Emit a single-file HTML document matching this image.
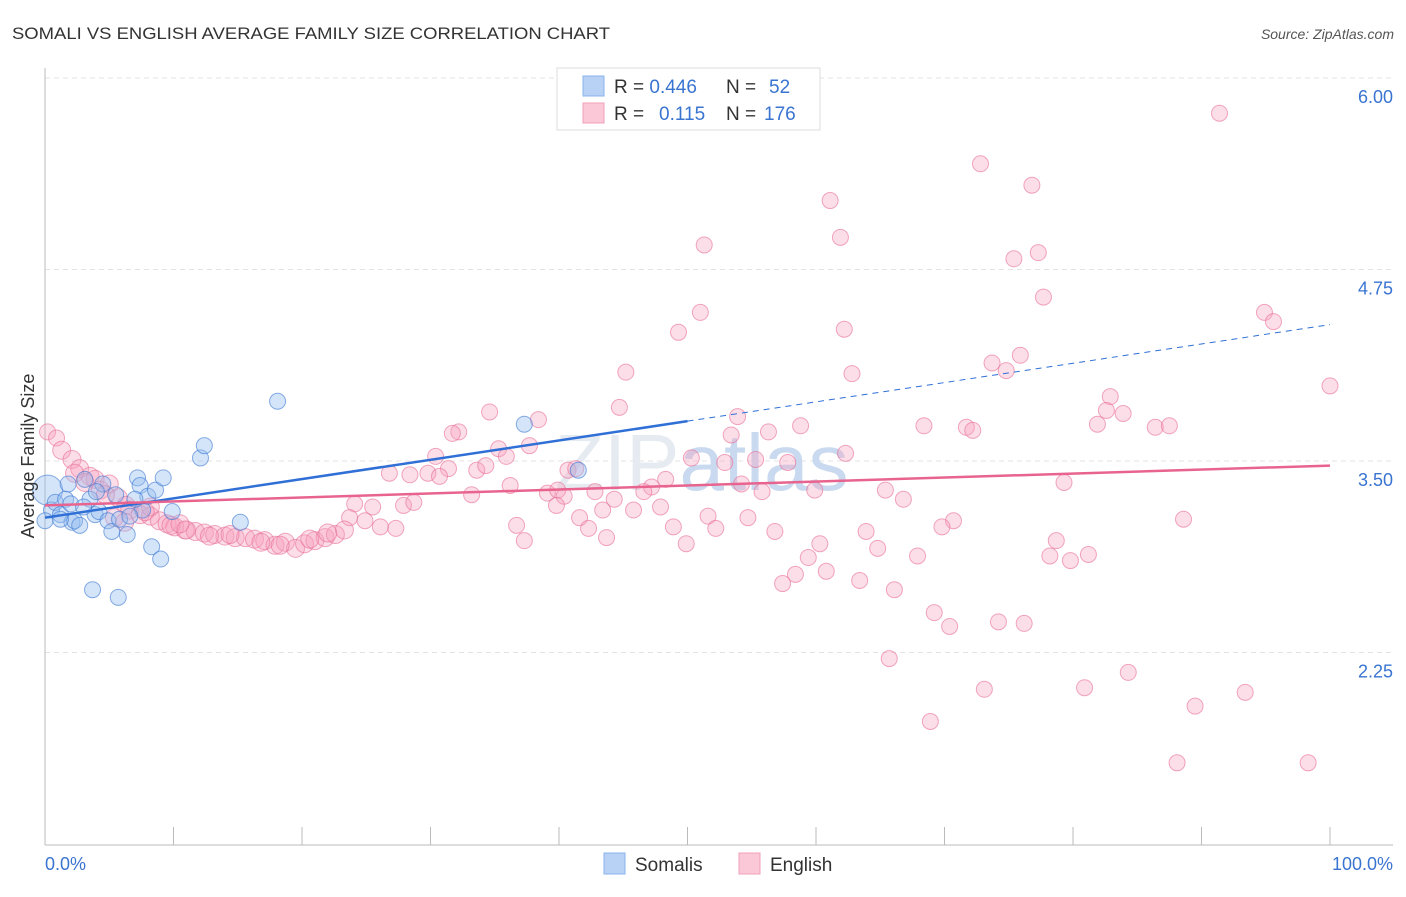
<!DOCTYPE html>
<html><head><meta charset="utf-8"><style>
body{margin:0;background:#fff;font-family:"Liberation Sans",sans-serif;}
svg text{font-family:"Liberation Sans",sans-serif;}
</style></head><body>
<svg id="chart" width="1406" height="892" xmlns="http://www.w3.org/2000/svg">
<text x="12" y="39" font-size="17" fill="#333" textLength="598" lengthAdjust="spacingAndGlyphs">SOMALI VS ENGLISH AVERAGE FAMILY SIZE CORRELATION CHART</text>
<text x="1394" y="39" font-size="14" fill="#555" font-style="italic" text-anchor="end">Source: ZipAtlas.com</text>
<g id="grid"></g>
<text x="555" y="490" font-size="80" fill="#e6ebf2" font-family="Liberation Serif">ZIP<tspan fill="#c9d9ef" font-family="Liberation Sans">atlas</tspan></text>
<g id="pts"></g>
<g id="lines"></g>
<text transform="translate(34,456) rotate(-90)" font-size="18" fill="#333" text-anchor="middle">Average Family Size</text>
<text x="45" y="870" font-size="18" fill="#3a74d1">0.0%</text>
<text x="1393" y="870" font-size="18" fill="#3a74d1" text-anchor="end">100.0%</text>
<g>
<rect x="557" y="68" width="263" height="62" fill="#fff" stroke="#ddd"/>
<rect x="583" y="76" width="21" height="20" fill="#b8d2f5" stroke="#8ab3ec"/>
<rect x="583" y="103" width="21" height="20" fill="#fac8d7" stroke="#f0a0b8"/>
<text x="614" y="93" font-size="19" fill="#333">R = <tspan fill="#3a74d1">0.446</tspan><tspan x="726">N = </tspan><tspan x="769" fill="#3a74d1">52</tspan></text>
<text x="614" y="120" font-size="19" fill="#333">R = <tspan x="659" fill="#3a74d1">0.115</tspan><tspan x="726">N = </tspan><tspan x="764" fill="#3a74d1">176</tspan></text>
</g>
<g>
<rect x="604" y="853" width="21" height="21" fill="#b8d2f5" stroke="#8ab3ec"/>
<text x="635" y="871" font-size="19" fill="#333">Somalis</text>
<rect x="739" y="853" width="21" height="21" fill="#fac8d7" stroke="#f0a0b8"/>
<text x="770" y="871" font-size="19" fill="#333">English</text>
</g>
</svg>
<script>
const yTicks=[6.00,4.75,3.50,2.25];
const xTicks=[0,10,20,30,40,50,60,70,80,90,100];
const somX=[0.2,0.5,0.8,1.2,1.6,1.8,2.1,2.3,2.7,3.1,3.5,3.9,4.2,4.5,4.9,5.2,5.5,5.8,6.4,7.2,7.4,7.6,8.0,8.3,8.6,9.0,9.2,9.9,12.1,12.4,15.2,18.1,3.7,5.7,37.3,41.5,1.2,0.0,2.0,6.6,3.0,4.0,7.0];
const somY=[3.31,3.18,3.23,3.15,3.25,3.35,3.10,3.11,3.08,3.38,3.25,3.15,3.17,3.35,3.11,3.04,3.28,3.12,3.02,3.39,3.34,3.18,3.27,2.94,3.31,2.86,3.39,3.17,3.52,3.60,3.10,3.89,2.66,2.61,3.74,3.44,3.12,3.11,3.22,3.14,3.20,3.30,3.25];
const engX=[91.4,72.8,76.8,61.1,61.9,51.3,75.4,77.3,77.7,51.0,49.3,62.2,94.9,95.6,73.7,75.9,74.8,62.8,45.2,100,82.9,82.6,83.9,81.9,86.4,87.5,71.7,72.2,68.4,53.9,44.7,53.4,56.3,58.8,34.6,38.4,32.2,31.7,35.3,37.7,30.4,35.9,50.3,52.9,55.3,57.8,62.3,26.8,28.4,29.8,31.4,33.6,34.3,40.7,41.3,30.7,48.3,47.2,46.6,36.2,39.1,39.9,40.4,42.8,44.3,45.8,54.2,55.8,59.9,65.4,66.8,79.3,33.2,24.1,25.5,27.9,28.7,23.7,24.9,39.8,43.4,47.9,51.6,54.7,70.7,69.8,88.6,36.7,41.6,42.3,48.9,52.2,56.8,63.9,26.1,27.3,37.3,43.7,49.9,60.3,64.8,78.7,67.9,59.4,78.2,79.8,81.2,58.4,57.4,60.8,63.4,66.1,69.2,70.4,74.2,76.2,65.7,84.3,73.1,80.9,93.4,89.5,68.9,88.1,98.3,
0.2,0.9,1.3,2.1,2.7,3.5,3.9,4.3,5.0,5.7,6.3,6.6,7.4,8.2,8.9,9.5,10.1,10.9,11.7,12.4,13.2,14.0,14.8,15.6,16.3,17.1,17.9,18.7,19.5,20.2,21.0,21.8,22.6,23.3,2.3,3.1,4.7,8.2,5.4,6.2,9.8,11.0,12.8,14.4,16.8,18.3,20.6,22.0,7.8,10.5];
const engY=[5.77,5.44,5.30,5.20,4.96,4.91,4.82,4.86,4.57,4.47,4.34,4.36,4.47,4.41,4.14,4.19,4.09,4.07,4.08,3.99,3.92,3.83,3.81,3.74,3.72,3.73,3.72,3.70,3.73,3.79,3.85,3.67,3.69,3.73,3.82,3.77,3.69,3.68,3.58,3.60,3.53,3.53,3.52,3.49,3.51,3.49,3.55,3.42,3.41,3.42,3.45,3.44,3.47,3.44,3.45,3.40,3.38,3.33,3.30,3.34,3.29,3.31,3.27,3.30,3.25,3.18,3.35,3.30,3.31,3.31,3.25,3.36,3.28,3.22,3.20,3.21,3.23,3.13,3.11,3.21,3.18,3.20,3.14,3.13,3.11,3.07,3.12,3.08,3.13,3.06,3.07,3.06,3.04,3.04,3.07,3.06,2.98,3.00,2.96,2.96,2.93,2.98,2.88,2.87,2.88,2.85,2.89,2.76,2.70,2.78,2.72,2.66,2.51,2.42,2.45,2.44,2.21,2.12,2.01,2.02,1.99,1.90,1.80,1.53,1.53,
3.69,3.65,3.57,3.51,3.45,3.40,3.38,3.31,3.35,3.26,3.21,3.18,3.15,3.14,3.11,3.09,3.07,3.05,3.04,3.03,3.02,3.01,3.00,3.00,2.99,2.98,2.95,2.97,2.93,2.96,2.98,3.00,3.02,3.05,3.42,3.36,3.28,3.20,3.13,3.10,3.08,3.05,3.01,3.02,2.97,2.95,2.99,3.03,3.17,3.09];
const somTrend=[3.13,4.39]; const somSolidEnd=50;
const engTrend=[3.21,3.47];
const NS='http://www.w3.org/2000/svg';
const X=v=>45+v*12.85;
const Y=v=>78+(6-v)*153.2;
function mk(t,a,p){const e=document.createElementNS(NS,t);for(const k in a)e.setAttribute(k,a[k]);p.appendChild(e);return e;}
const grid=document.getElementById('grid');
yTicks.forEach(t=>{
 const l=mk('line',{x1:45,x2:1393,y1:Y(t),y2:Y(t),stroke:'#e3e3e3','stroke-dasharray':'5,4'},grid);
 
 
 const tx=mk('text',{x:1393,y:Y(t)+25,'font-size':18,fill:'#3a74d1','text-anchor':'end'},grid);
 tx.textContent=t.toFixed(2);
 
 
});
mk('line',{x1:45,x2:45,y1:68,y2:845,stroke:'#bbb'},grid);
mk('line',{x1:45,x2:1393,y1:845,y2:845,stroke:'#bbb'},grid);
xTicks.forEach(t=>{
 const l=mk('line',{x1:X(t),x2:X(t),y1:827,y2:845,stroke:'#bbb'},grid);
 
 
});
const pts=document.getElementById('pts');
engX.forEach((x,i)=>{
 const c=mk('circle',{cx:X(x),cy:Y(engY[i]),r:i<127?8:9,fill:'rgba(246,160,188,0.35)',stroke:'rgba(232,110,150,0.6)','stroke-width':1},pts);
 
 
});
somX.forEach((x,i)=>{
 const c=mk('circle',{cx:X(x),cy:Y(somY[i]),r:i===0?15:8,fill:'rgba(150,190,240,0.4)',stroke:'rgba(60,120,210,0.6)','stroke-width':1},pts);
 
 
});
const lines=document.getElementById('lines');
const sy=v=>somTrend[0]+(somTrend[1]-somTrend[0])*v/100;
let l1=mk('line',{x1:X(0),y1:Y(sy(0)),x2:X(somSolidEnd),y2:Y(sy(somSolidEnd)),stroke:'#2f6fd6','stroke-width':2.5},lines);


let l2=mk('line',{x1:X(somSolidEnd),y1:Y(sy(somSolidEnd)),x2:X(100),y2:Y(sy(100)),stroke:'#2f6fd6','stroke-width':1,'stroke-dasharray':'6,5'},lines);


let l3=mk('line',{x1:X(0),y1:Y(engTrend[0]),x2:X(100),y2:Y(engTrend[1]),stroke:'#e8648f','stroke-width':2.5},lines);


</script>
</body></html>
